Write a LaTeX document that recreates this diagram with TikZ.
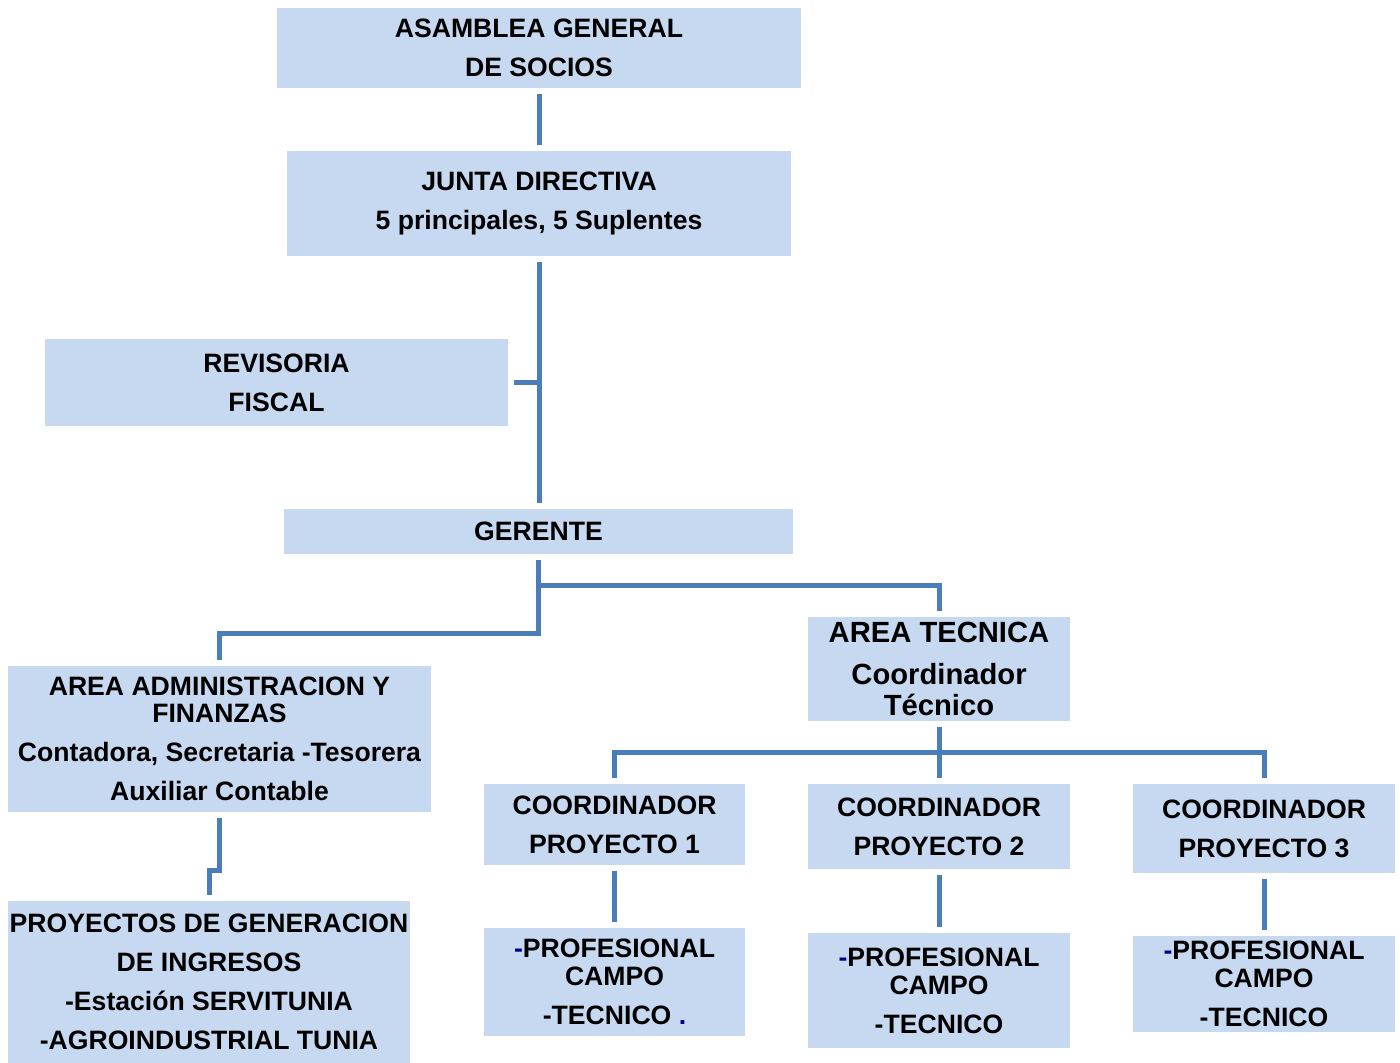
\documentclass[tikz,border=0pt]{standalone}
\usepackage{fontspec}
\setmainfont{Liberation Sans}
\definecolor{boxfill}{HTML}{C6D9F1}
\definecolor{linecol}{HTML}{4A7EBB}
\definecolor{navyc}{HTML}{00008B}
\begin{document}
\begin{tikzpicture}[x=0.5pt,y=-0.5pt,
  box/.style={fill=boxfill, draw=none, inner sep=0pt, outer sep=0pt, align=center,
    font=\bfseries\fontsize{13.3}{19.5}\selectfont, text=black},
  bigbox/.style={box, font=\bfseries\fontsize{14.6}{21}\selectfont},
  conn/.style={draw=linecol, line width=2.5pt, shorten <=3pt, shorten >=3pt},
  conns/.style={draw=linecol, line width=2.5pt, shorten <=3pt},
]
\useasboundingbox (0,0) rectangle (1400,1063);

\node[box, minimum width=262pt, minimum height=40pt] (asam) at (539,48) {ASAMBLEA GENERAL\\DE SOCIOS};
\node[box, minimum width=252pt, minimum height=52.5pt] (junta) at (539,203.5) {JUNTA DIRECTIVA\\5 principales, 5 Suplentes};
\node[box, minimum width=231.5pt, minimum height=43.5pt] (rev) at (276.5,382.5) {REVISORIA\\FISCAL};
\node[box, minimum width=254.5pt, minimum height=22.5pt] (ger) at (538.5,531.5) {GERENTE};
\node[box, minimum width=211.5pt, minimum height=73pt] (adm) at (219.5,739) {AREA ADMINISTRACION Y\\[-6pt]FINANZAS\\Contadora, Secretaria -Tesorera\\Auxiliar Contable};
\node[bigbox, minimum width=131pt, minimum height=52pt] (tec) at (939,669) {AREA TECNICA\\Coordinador\\[-5.5pt]Técnico};
\node[box, minimum width=130.5pt, minimum height=40.5pt] (c1) at (614.5,824.5) {COORDINADOR\\PROYECTO 1};
\node[box, minimum width=131pt, minimum height=42.5pt] (c2) at (939,826.5) {COORDINADOR\\PROYECTO 2};
\node[box, minimum width=131pt, minimum height=44.5pt] (c3) at (1264,828.5) {COORDINADOR\\PROYECTO 3};
\node[box, minimum width=201pt, minimum height=81pt] (proy) at (209,982) {PROYECTOS DE GENERACION\\DE INGRESOS\\-Estación SERVITUNIA\\-AGROINDUSTRIAL TUNIA};
\node[box, minimum width=130.5pt, minimum height=54pt] (p1) at (614.5,982) {{\color{navyc}-}PROFESIONAL\\[-5.5pt]CAMPO\\-TECNICO {\color{navyc}.}};
\node[box, minimum width=131pt, minimum height=57.5pt] (p2) at (939,990.5) {{\color{navyc}-}PROFESIONAL\\[-5.5pt]CAMPO\\-TECNICO};
\node[box, minimum width=131pt, minimum height=48pt] (p3) at (1264,984) {{\color{navyc}-}PROFESIONAL\\[-5.5pt]CAMPO\\-TECNICO};

\draw[conn] (asam.south) -- (junta.north);
\draw[conn] (junta.south) -- (junta.south |- ger.north);
\draw[conns] (rev.east) -- (rev.east -| junta.south);
\draw[conn] (ger.south) -- ++(0,79) -| (adm.north);
\draw[conn] (ger.south) -- ++(0,31) -| (tec.north);
\draw[conn] (tec.south) -- (c2.north);
\draw[conn] (c1.north) -- ++(0,-32) -| (c3.north);
\draw[conn] (c1.south) -- (p1.north);
\draw[conn] (c2.south) -- (p2.north);
\draw[conn] (c3.south) -- (p3.north);
\draw[conn] (adm.south) -- ++(0,58) -| (proy.north);
\end{tikzpicture}
\end{document}
